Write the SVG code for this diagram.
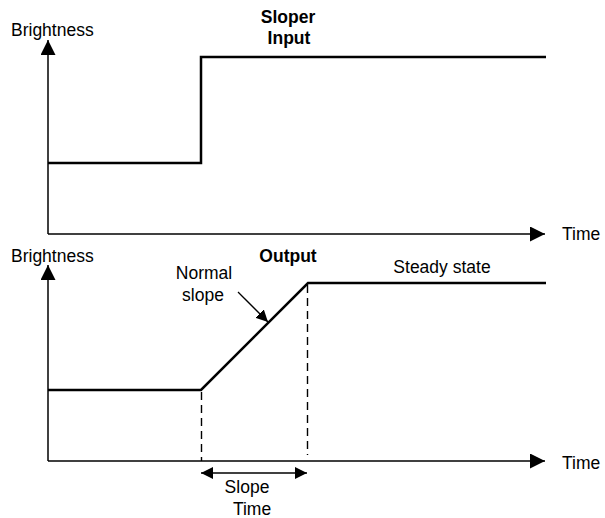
<svg xmlns="http://www.w3.org/2000/svg" width="605" height="518" viewBox="0 0 605 518">
<style>
text{font-family:"Liberation Sans",Arial,sans-serif;font-size:17.5px;fill:#000}
.b{font-weight:bold}
.ax{stroke:#000;stroke-width:1.5;fill:none}
.sig{stroke:#000;stroke-width:2.5;fill:none}
.dash{stroke:#000;stroke-width:1.4;stroke-dasharray:8,5;fill:none}
.thin{stroke:#000;stroke-width:1.3;fill:none}
</style>
<defs>
<marker id="ah" viewBox="0 0 10 10" refX="10" refY="5" markerWidth="15" markerHeight="15" markerUnits="userSpaceOnUse" orient="auto-start-reverse">
<path d="M0,0 L10,5 L0,10 Z" fill="#000"/>
</marker>
<marker id="ah2" viewBox="0 0 10 10" refX="10" refY="5" markerWidth="12" markerHeight="12" markerUnits="userSpaceOnUse" orient="auto-start-reverse">
<path d="M0,0 L10,5 L0,10 Z" fill="#000"/>
</marker>
</defs>
<g id="top-chart">
<text x="11" y="36">Brightness</text>
<text x="562" y="240">Time</text>
<text class="b" x="288" y="23" text-anchor="middle">Sloper</text>
<text class="b" x="289" y="44" text-anchor="middle">Input</text>
</g>
<g id="bottom-chart">
<text x="11" y="262">Brightness</text>
<text x="562" y="469">Time</text>
<text class="b" x="288" y="262" text-anchor="middle">Output</text>
<text x="204" y="279" text-anchor="middle">Normal</text>
<text x="203" y="301" text-anchor="middle">slope</text>
<text x="442" y="273" text-anchor="middle">Steady state</text>
<text x="247" y="493" text-anchor="middle">Slope</text>
<text x="252" y="515" text-anchor="middle">Time</text>
</g>
<g id="connectors">
<path class="ax" d="M48,234 L48,40" marker-end="url(#ah)"/>
<path class="ax" d="M48,234 L545,234" marker-end="url(#ah)"/>
<path class="sig" d="M48,163 L201,163 L201,57 L546,57"/>
<path class="ax" d="M48,461 L48,265" marker-end="url(#ah)"/>
<path class="ax" d="M48,461 L545,461" marker-end="url(#ah)"/>
<path class="sig" d="M48,390 L201,390 L308,283 L546,283"/>
<path class="dash" d="M201.5,392 L201.5,461"/>
<path class="dash" d="M307.5,285 L307.5,455"/>
<path class="thin" d="M201,473 L307,473" marker-start="url(#ah2)" marker-end="url(#ah2)"/>
<path class="thin" d="M238,292 L268,322" marker-end="url(#ah2)"/>
</g>
</svg>
